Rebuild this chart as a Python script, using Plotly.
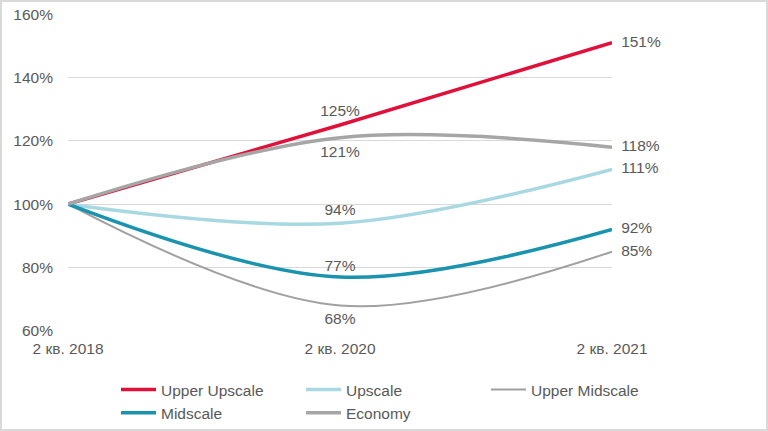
import plotly.graph_objects as go

categories = ["2 кв. 2018", "2 кв. 2020", "2 кв. 2021"]
series_names = ["Upper Upscale", "Upscale", "Upper Midscale", "Midscale", "Economy"]
upper_upscale = [100, 125, 151]
upscale = [100, 94, 111]
upper_midscale = [100, 68, 85]
midscale = [100, 77, 92]
economy = [100, 121, 118]
y_ticks = [60, 80, 100, 120, 140, 160]

colors = ["#E0103A", "#A8D8E2", "#A0A0A0", "#1A93AE", "#A6A6A6"]
widths = [3.5, 3.5, 2, 3.5, 3.5]
mid_pos = ["top center", "top center", "bottom center", "top center", "bottom center"]
# invisible marker sizes only used to set label offsets from the line
label_gap = [[0, 6, 13], [0, 6, 13], [0, 9, 13], [0, 2, 13], [0, 10, 13]]
legend_ids = ["legend", "legend2", "legend3", "legend", "legend2"]
values = [upper_upscale, upscale, upper_midscale, midscale, economy]

FONT = "Liberation Sans, Arial, sans-serif"
TXT = "#595959"

fig = go.Figure()
for name, vals, col, w, mp, gap, lg in zip(series_names, values, colors, widths,
                                           mid_pos, label_gap, legend_ids):
    fig.add_trace(go.Scatter(
        x=categories, y=vals, name=name, mode="lines+markers+text",
        line=dict(color=col, width=w, shape="spline", smoothing=1.0),
        marker=dict(size=gap, color="rgba(0,0,0,0)", line=dict(width=0)),
        text=["", f"{vals[1]}%", f"{vals[2]}%"],
        textposition=["top center", mp, "middle right"],
        textfont=dict(family=FONT, size=15.5, color=TXT),
        cliponaxis=False, hoverinfo="skip", legend=lg,
    ))

leg_common = dict(
    orientation="v", y=(331 - 373) / 317, xanchor="left", yanchor="top",
    font=dict(family=FONT, size=15.5, color=TXT),
    bgcolor="rgba(0,0,0,0)", tracegroupgap=0, itemwidth=35,
)

fig.update_layout(
    width=768, height=431,
    margin=dict(l=68, r=156, t=14, b=100, autoexpand=False),
    paper_bgcolor="white", plot_bgcolor="white",
    font=dict(family=FONT, size=15.5, color=TXT),
    showlegend=True,
    legend=dict(x=(116 - 68) / 544, **leg_common),
    legend2=dict(x=(301 - 68) / 544, **leg_common),
    legend3=dict(x=(486 - 68) / 544, **leg_common),
    xaxis=dict(
        type="category", range=[0, 2], showgrid=False, zeroline=False,
        showline=False, ticks="", ticklabelstandoff=6, automargin=False,
        tickfont=dict(family=FONT, size=15.5, color=TXT),
    ),
    yaxis=dict(
        range=[59.95, 160.05], tickvals=y_ticks,
        ticktext=[f"{v}%" for v in y_ticks],
        showgrid=True, gridcolor="#D9D9D9", gridwidth=1, automargin=False,
        zeroline=False, showline=False, ticks="", ticklabelstandoff=14,
        tickfont=dict(family=FONT, size=15.5, color=TXT),
    ),
    shapes=[dict(
        type="rect", xref="paper", yref="paper",
        x0=(1 - 68) / 544, x1=(767 - 68) / 544,
        y0=(331 - 430) / 317, y1=(331 - 1) / 317,
        line=dict(color="#D9D9D9", width=2), fillcolor="rgba(0,0,0,0)",
        layer="below",
    )],
)

fig.write_html(
    "out.html",
    config={"displayModeBar": False},
    post_script="document.body.style.margin='0';document.body.style.overflow='hidden';",
)
